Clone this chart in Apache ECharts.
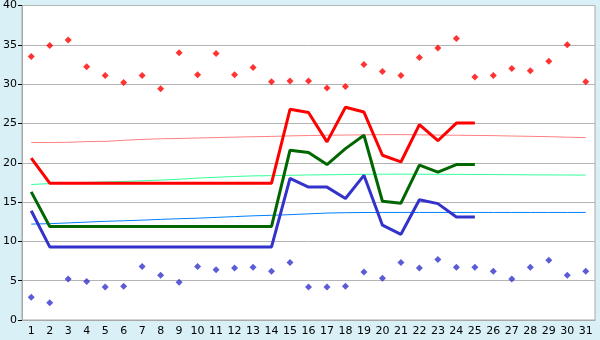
<!DOCTYPE html>
<html><head><meta charset="utf-8">
<script src="https://cdn.jsdelivr.net/npm/echarts@6/dist/echarts.min.js"></script>
<style>html,body{margin:0;padding:0;background:#d9f0f7;}#c{width:600px;height:340px;}</style>
</head><body><div id="c"></div>
<script>
const days = ['1','2','3','4','5','6','7','8','9','10','11','12','13','14','15','16','17','18','19','20','21','22','23','24','25','26','27','28','29','30','31'];
const maxPoints = [33.5,34.9,35.6,32.2,31.1,30.2,31.1,29.4,34.0,31.2,33.9,31.2,32.1,30.3,30.4,30.4,29.5,29.7,32.5,31.6,31.1,33.4,34.6,35.8,30.9,31.1,32.0,31.7,32.9,35.0,30.3];
const minPoints = [2.9,2.2,5.2,4.9,4.2,4.3,6.8,5.7,4.8,6.8,6.4,6.6,6.7,6.2,7.3,4.2,4.2,4.3,6.1,5.3,7.3,6.6,7.7,6.7,6.7,6.2,5.2,6.7,7.6,5.7,6.2];
const redLine = [20.6,17.4,17.4,17.4,17.4,17.4,17.4,17.4,17.4,17.4,17.4,17.4,17.4,17.4,26.8,26.4,22.65,27.05,26.45,20.95,20.1,24.85,22.8,25.05,25.05,null,null,null,null,null,null];
const greenLine = [16.3,11.9,11.9,11.9,11.9,11.9,11.9,11.9,11.9,11.9,11.9,11.9,11.9,11.9,21.6,21.3,19.77,21.8,23.5,15.1,14.86,19.7,18.8,19.77,19.77,null,null,null,null,null,null];
const blueLine = [13.9,9.3,9.3,9.3,9.3,9.3,9.3,9.3,9.3,9.3,9.3,9.3,9.3,9.3,18.0,16.9,16.9,15.45,18.4,12.06,10.9,15.3,14.8,13.1,13.1,null,null,null,null,null,null];
const redTrend = [22.57,22.57,22.6,22.69,22.72,22.85,22.97,23.05,23.09,23.15,23.2,23.26,23.31,23.35,23.42,23.46,23.5,23.52,23.55,23.57,23.58,23.55,23.52,23.5,23.47,23.45,23.4,23.36,23.32,23.25,23.2];
const greenTrend = [17.23,17.35,17.44,17.5,17.56,17.62,17.7,17.8,17.9,18.05,18.15,18.25,18.33,18.36,18.4,18.45,18.47,18.5,18.53,18.54,18.55,18.54,18.53,18.52,18.5,18.5,18.48,18.46,18.45,18.44,18.43];
const blueTrend = [12.2,12.25,12.35,12.45,12.55,12.62,12.7,12.8,12.88,12.95,13.05,13.15,13.25,13.32,13.4,13.5,13.6,13.65,13.67,13.68,13.68,13.68,13.68,13.68,13.68,13.68,13.68,13.68,13.68,13.68,13.68];
const yTicks = {min:0, max:40, interval:5};

const chart = echarts.init(document.getElementById('c'), null, {renderer:'canvas'});
const font = {fontFamily:'DejaVu Sans', fontSize:11, color:'#000'};
function line(data, color, width, z){
  return {type:'line', data:data, symbol:'none', connectNulls:false, animation:false, z:z,
    lineStyle:{color:color, width:width}, itemStyle:{color:color}};
}
chart.setOption({
  backgroundColor:'#d9f0f7',
  animation:false,
  grid:{left:20, top:5, right:5, bottom:20, show:true, backgroundColor:'#ffffff', borderColor:'#a8a8a8', borderWidth:1},
  xAxis:{type:'category', data:days, boundaryGap:true,
    axisLine:{lineStyle:{color:'#a8a8a8'}},
    axisTick:{alignWithLabel:true, length:5, lineStyle:{color:'#000'}},
    axisLabel:Object.assign({margin:6, interval:0}, font), splitLine:{show:false}},
  yAxis:{type:'value', min:yTicks.min, max:yTicks.max, interval:yTicks.interval,
    axisLine:{show:true, lineStyle:{color:'#a8a8a8'}},
    axisTick:{show:true, length:4, lineStyle:{color:'#000'}},
    axisLabel:Object.assign({margin:5}, font),
    splitLine:{lineStyle:{color:'#b4b4b4'}}},
  series:[
    line(redTrend,'#ff8080',1,2),
    line(greenTrend,'#33ff99',1,2),
    line(blueTrend,'#0080ff',1,2),
    line(redLine,'#ff0000',3,3),
    line(greenLine,'#006600',3,3),
    line(blueLine,'#3333cc',3,3),
    {type:'scatter', data:maxPoints, symbol:'diamond', symbolSize:7, itemStyle:{color:'#ff0000'}, z:4},
    {type:'scatter', data:minPoints, symbol:'diamond', symbolSize:7, itemStyle:{color:'#3333cc'}, z:4}
  ]
});
</script></body></html>
